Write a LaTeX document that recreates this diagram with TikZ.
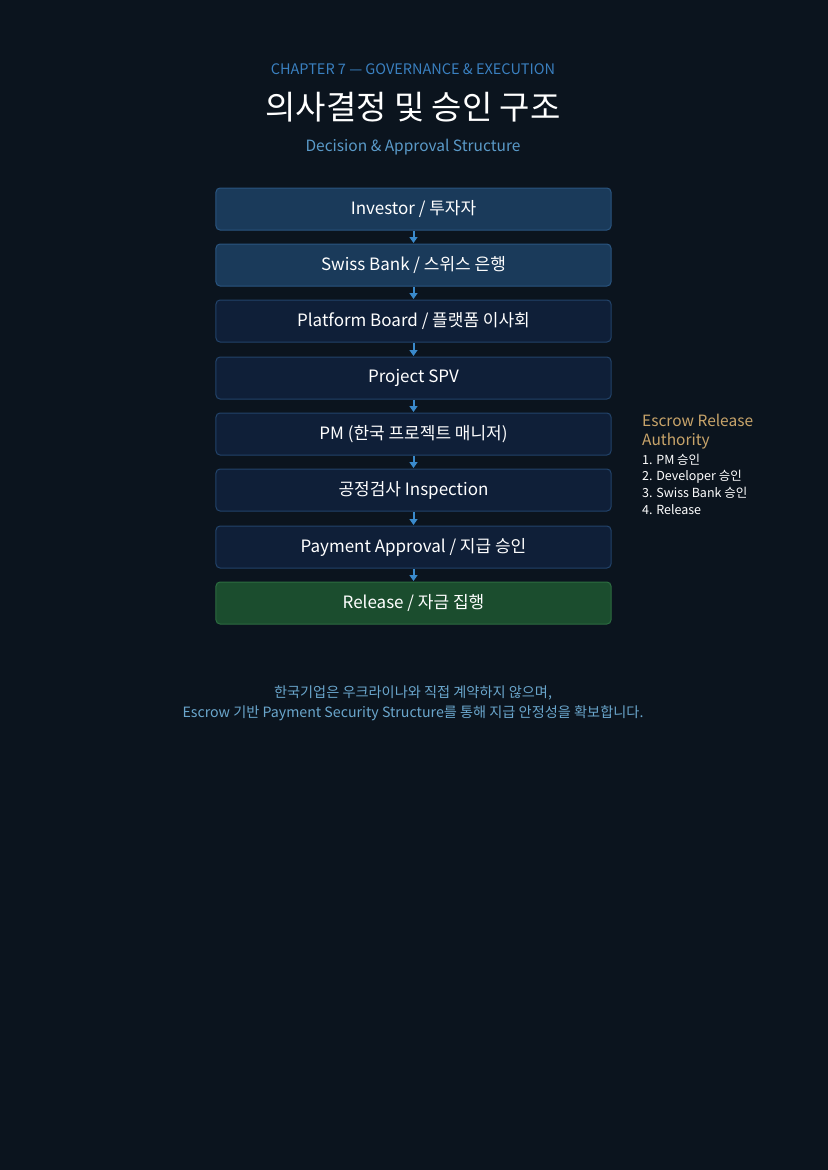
\documentclass[tikz,border=0pt]{standalone}
\usepackage{fontspec}
\setmainfont{Noto Sans CJK KR}
\usetikzlibrary{arrows.meta}
\definecolor{bg}{HTML}{0B141E}
\definecolor{boxA}{HTML}{1A3A5A}
\definecolor{boxAline}{HTML}{2A5580}
\definecolor{boxB}{HTML}{0F1F38}
\definecolor{boxBline}{HTML}{22436A}
\definecolor{boxG}{HTML}{1B4D2E}
\definecolor{boxGline}{HTML}{2C6C40}
\definecolor{arrowc}{HTML}{3A8ACC}
\definecolor{chapc}{HTML}{3A80C0}
\definecolor{subc}{HTML}{5A9AC8}
\definecolor{gold}{HTML}{C8A46A}
\definecolor{notec}{HTML}{6AA6CC}
\tikzset{
  stepbox/.style={draw=boxBline, fill=boxB, line width=1bp, rounded corners=4bp,
    minimum width=395bp, minimum height=42bp, inner sep=0pt, text=white,
    font=\fontsize{17bp}{20bp}\selectfont},
  topbox/.style={stepbox, draw=boxAline, fill=boxA},
  greenbox/.style={stepbox, draw=boxGline, fill=boxG},
  flow/.style={draw=arrowc, line width=2bp, -{Triangle[length=6bp,width=8bp]}, shorten <=0.5bp, shorten >=0.5bp},
  sidegold/.style={anchor=west, text=gold, inner sep=0pt, font=\fontsize{15.5bp}{18bp}\selectfont},
  sidelist/.style={anchor=west, text=white, inner sep=0pt, font=\fontsize{12.5bp}{15bp}\selectfont},
}
\begin{document}
\begin{tikzpicture}[x=1bp,y=-1bp]
\fill[bg] (0,0) rectangle (828,1170);
\useasboundingbox (0,0) rectangle (828,1170);
\node[text=chapc, font=\fontsize{14.5bp}{17bp}\selectfont] (chap) at (413,69) {CHAPTER 7 — GOVERNANCE \& EXECUTION};
\node[text=white, font=\fontsize{33bp}{38bp}\selectfont] (title) at (413,107) {의사결정 및 승인 구조};
\node[text=subc, font=\fontsize{15.5bp}{18bp}\selectfont] (sub) at (413,147) {Decision \& Approval Structure};

\node[topbox] (b1) at (413.5,209) {Investor / 투자자};
\node[topbox] (b2) at (413.5,265) {Swiss Bank / 스위스 은행};
\node[stepbox] (b3) at (413.5,321) {Platform Board / 플랫폼 이사회};
\node[stepbox] (b4) at (413.5,378) {Project SPV};
\node[stepbox] (b5) at (413.5,434) {PM (한국 프로젝트 매니저)};
\node[stepbox] (b6) at (413.5,490) {공정검사 Inspection};
\node[stepbox] (b7) at (413.5,547) {Payment Approval / 지급 승인};
\node[greenbox] (b8) at (413.5,603) {Release / 자금 집행};

\foreach \a/\b in {b1/b2,b2/b3,b3/b4,b4/b5,b5/b6,b6/b7,b7/b8}
  \draw[flow] (\a.south) -- (\b.north);

\node[sidegold] (esc1) at (642,420) {Escrow Release};
\node[sidegold] (esc2) at (642,441) {Authority};
\node[sidelist] (l1) at (642,460) {1. PM 승인};
\node[sidelist] (l2) at (642,477) {2. Developer 승인};
\node[sidelist] (l3) at (642,493) {3. Swiss Bank 승인};
\node[sidelist] (l4) at (642,510) {4. Release};

\node[text=notec, font=\fontsize{14.2bp}{17bp}\selectfont] (note1) at (413,693) {한국기업은 우크라이나와 직접 계약하지 않으며,};
\node[text=notec, font=\fontsize{14.2bp}{17bp}\selectfont] (note2) at (413,713) {Escrow 기반 Payment Security Structure를 통해 지급 안정성을 확보합니다.};
\end{tikzpicture}
\end{document}
